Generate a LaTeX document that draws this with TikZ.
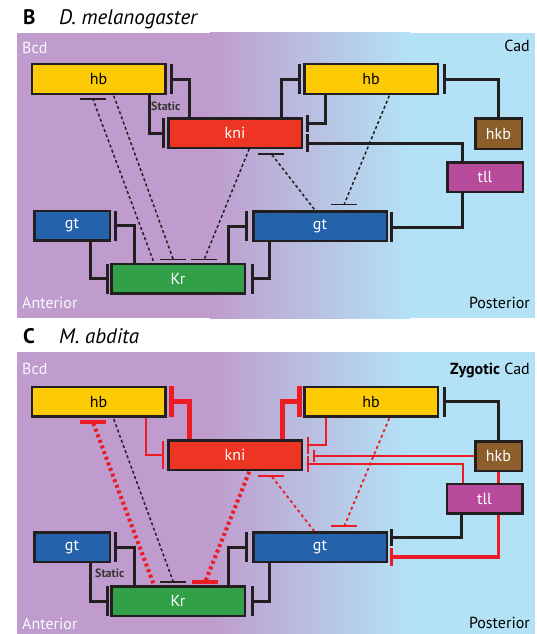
\documentclass[tikz,border=0pt]{standalone}
\usepackage{fontspec}
\setmainfont{PT Sans}
\usetikzlibrary{arrows.meta,calc}

\definecolor{bgpurple}{RGB}{191,156,205}
\definecolor{bgblue}{RGB}{179,226,246}
\definecolor{hbyellow}{RGB}{253,203,5}
\definecolor{knired}{RGB}{238,53,36}
\definecolor{gtblue}{RGB}{36,98,172}
\definecolor{krgreen}{RGB}{50,160,72}
\definecolor{hkbbrown}{RGB}{139,94,43}
\definecolor{tllmag}{RGB}{183,74,155}
\definecolor{redline}{RGB}{237,28,36}
\definecolor{linedark}{RGB}{35,31,32}

\pgfdeclarelayer{back}
\pgfdeclarelayer{wires}
\pgfsetlayers{back,wires,main}

% dashed/dotted regulation with a level bar at its target
\newcommand{\teeline}[4]{%
  \draw[#1] #2 -- #3;
  \draw[#4] #3 ++(-13,0) -- ++(26,0);}

\begin{document}
\begin{tikzpicture}[x=1pt,y=-1pt,
  box/.style={draw=linedark, line width=2.5pt, inner sep=0pt, outer sep=0pt,
    minimum height=29.5pt, text=white,
    font=\fontsize{16}{18}\selectfont},
  long/.style={box, minimum width=133.5pt},
  short/.style={box, minimum width=75.5pt},
  lbl/.style={inner sep=0pt, font=\fontsize{16}{18}\selectfont},
  ttl/.style={inner sep=0pt, anchor=base west, font=\fontsize{21}{24}\selectfont},
  static/.style={inner sep=0pt, anchor=base west, text=linedark!90,
    font=\fontsize{12}{14}\selectfont\bfseries},
  rep/.style={draw=linedark, line width=3pt, -{Bar[width=#1]}},
  rep/.default=30pt,
  redthin/.style={draw=redline, line width=1.6pt, -{Bar[width=#1]}},
  redthin/.default=17pt,
  redthick/.style={draw=redline, line width=5pt, -{Bar[width=#1]}},
  redthick/.default=31pt,
  redmid/.style={draw=redline, line width=3.6pt, -{Bar[width=#1]}},
  redmid/.default=18pt,
  dashk/.style={draw=linedark, line width=1.5pt, dash pattern=on 3pt off 2.5pt},
  bark/.style={draw=linedark, line width=1.5pt},
  dotr/.style={draw=redline, line width=4pt, dash pattern=on 3pt off 3pt},
  barrthick/.style={draw=redline, line width=4pt},
  dashr/.style={draw=redline, line width=1.8pt, dash pattern=on 3pt off 3pt},
  barr/.style={draw=redline, line width=1.8pt}]
\useasboundingbox (0,0) rectangle (537,634);

% ---------------- backgrounds (anterior-posterior gradient)
\begin{pgfonlayer}{back}
  \fill[bgpurple] (17,33) rectangle (210.5,318);
  \shade[left color=bgpurple, right color=bgblue] (210,33) rectangle (410,318);
  \fill[bgblue] (409.5,33) rectangle (535,318);
  \fill[bgpurple] (17,352) rectangle (210.5,634);
  \shade[left color=bgpurple, right color=bgblue] (210,352) rectangle (410,634);
  \fill[bgblue] (409.5,352) rectangle (535,634);
\end{pgfonlayer}

% ================= panel B: D. melanogaster
\node[ttl, font=\fontsize{21}{24}\selectfont\bfseries] (bletter) at (23,24.5) {B};
\node[ttl, font=\fontsize{21}{24}\selectfont\itshape] (btitle) at (59,24.5) {D. melanogaster};
\node[lbl, anchor=base west, text=white!94!bgpurple] (bbcd) at (22,53) {Bcd};
\node[lbl, anchor=base east] (bcad) at (530,52) {Cad};
\node[lbl, anchor=base west, text=white!94!bgpurple] (bant) at (22,308) {Anterior};
\node[lbl, anchor=base east] (bpost) at (530,308) {Posterior};

\node[long, fill=hbyellow, text=black] (bhbL) at (98.5,79) {hb};
\node[long, fill=knired] (bkni) at (235,133) {kni};
\node[long, fill=hbyellow, text=black] (bhbR) at (371,79) {hb};
\node[box, fill=hkbbrown, minimum width=46.5pt, minimum height=30.5pt] (bhkb) at (498.5,133.5) {hkb};
\node[short, fill=tllmag] (btll) at (485,177) {tll};
\node[long, fill=gtblue] (bgtR) at (320,226) {gt};
\node[short, fill=gtblue] (bgtL) at (72,225.5) {gt};
\node[long, fill=krgreen] (bKr) at (178,278.5) {Kr};
\node[static] (bstatic) at (151,110) {Static};

\begin{pgfonlayer}{wires}
  \draw[rep] ($(bhbL.south west)+(117.5,0)$) |- ($(bkni.west)+(-3,0)$);
  \draw[rep] ($(bkni.north west)+(21,0)$) |- ($(bhbL.east)+(5,0)$);
  \draw[rep] ($(bkni.north east)+(-20,0)$) |- ($(bhbR.west)+(-3,0)$);
  \draw[rep=17pt] ($(bhbR.south west)+(21,0)$) |- ($(bkni.east)+(4,-10)$);
  \draw[rep=18pt] ($(btll.north west)+(15,0)$) |- ($(bkni.east)+(4,10)$);
  \draw[rep] (bhkb.north) |- ($(bhbR.east)+(5.5,0)$);
  \draw[rep] ($(btll.south west)+(15,0)$) |- ($(bgtR.east)+(3,1)$);
  \draw[rep] ($(bgtL.south west)+(56,0)$) |- ($(bKr.west)+(-2.5,0)$);
  \draw[rep] ($(bKr.north west)+(23,0)$) |- ($(bgtL.east)+(4.5,0)$);
  \draw[rep] ($(bKr.north east)+(-16,0)$) |- ($(bgtR.west)+(-5,0)$);
  \draw[rep] ($(bgtR.south west)+(16,0)$) |- ($(bKr.east)+(6,0)$);

  \teeline{dashk}{($(bKr.north west)+(42,-3)$)}{($(bhbL.south west)+(61,5)$)}{bark}
  \teeline{dashk}{($(bhbL.south west)+(82,2)$)}{($(bKr.north west)+(62,-4.5)$)}{bark}
  \teeline{dashk}{($(bkni.south west)+(81,1)$)}{($(bKr.north west)+(93,-4.5)$)}{bark}
  \teeline{dashk}{($(bgtR.north west)+(61,-2)$)}{($(bkni.south west)+(103,6)$)}{bark}
  \teeline{dashk}{($(bhbR.south west)+(85,2)$)}{($(bgtR.north west)+(91,-7)$)}{bark}
\end{pgfonlayer}

% ================= panel C: M. abdita
\node[ttl, font=\fontsize{21}{24}\selectfont\bfseries] (cletter) at (23,343) {C};
\node[ttl, font=\fontsize{21}{24}\selectfont\itshape] (ctitle) at (59,343) {M. abdita};
\node[lbl, anchor=base west, text=white!94!bgpurple] (cbcd) at (22,374) {Bcd};
\node[lbl, anchor=base east] (ccad) at (530,374) {\textbf{Zygotic} Cad};
\node[lbl, anchor=base west, text=white!94!bgpurple] (cant) at (22,629) {Anterior};
\node[lbl, anchor=base east] (cpost) at (530,628) {Posterior};

\begin{scope}[shift={(0,322)}]
\node[long, fill=hbyellow, text=black] (chbL) at (98.5,79.5) {hb};
\node[long, fill=knired] (ckni) at (235,133) {kni};
\node[long, fill=hbyellow, text=black] (chbR) at (371,79.5) {hb};
\node[box, fill=hkbbrown, minimum width=46.5pt, minimum height=29.5pt] (chkb) at (498.5,134) {hkb};
\node[short, fill=tllmag] (ctll) at (484.5,176.5) {tll};
\node[long, fill=gtblue] (cgtR) at (320,225) {gt};
\node[short, fill=gtblue] (cgtL) at (72,225) {gt};
\node[long, fill=krgreen] (cKr) at (178,279) {Kr};
\node[static] (cstatic) at (95,255) {Static};

\begin{pgfonlayer}{wires}
  \draw[redthin=28pt] ($(chbL.south west)+(114.5,0)$) |- ($(ckni.west)+(-4.7,0)$);
  \draw[redthick] ($(ckni.north west)+(21,0)$) |- ($(chbL.east)+(3.5,0)$);
  \draw[redthick] ($(ckni.north east)+(-19,0)$) |- ($(chbR.west)+(-2,0)$);
  \draw[redthin=17pt] ($(chbR.south west)+(22,0)$) |- ($(ckni.east)+(5.7,-10)$);
  \draw[redthin=12pt] (chkb.west) -- ($(chkb.west -| ckni.east)+(11.5,0)$);
  \draw[redthin=16pt] ($(ctll.north west)+(16,0)$) |- ($(ckni.east)+(5.7,9)$);
  \draw[rep] (chkb.north) |- ($(chbR.east)+(5.5,0)$);
  \draw[rep=17pt] ($(ctll.south west)+(15,0)$) |- ($(cgtR.east)+(3,-10)$);
  \draw[redmid] (chkb.south) |- ($(cgtR.east)+(3,10)$);
  \draw[rep] ($(cgtL.south west)+(56,0)$) |- ($(cKr.west)+(-2.5,0)$);
  \draw[rep] ($(cKr.north west)+(23,0)$) |- ($(cgtL.east)+(4.5,0)$);
  \draw[rep] ($(cKr.north east)+(-16,0)$) |- ($(cgtR.west)+(-5,0)$);
  \draw[rep] ($(cgtR.south west)+(16,0)$) |- ($(cKr.east)+(6,0)$);

  \teeline{dotr}{($(cKr.north west)+(42,-3)$)}{($(chbL.south west)+(61,5.5)$)}{barrthick}
  \teeline{dashk}{($(chbL.south west)+(82,3)$)}{($(cKr.north west)+(62,-4.5)$)}{bark}
  \teeline{dotr}{($(ckni.south west)+(81,2)$)}{($(cKr.north west)+(94,-4.5)$)}{barrthick}
  \teeline{dashr}{($(cgtR.north west)+(61,-1)$)}{($(ckni.south west)+(103,6)$)}{barr}
  \teeline{dashr}{($(chbR.south west)+(85,2)$)}{($(cgtR.north west)+(91,-6)$)}{barr}
\end{pgfonlayer}
\end{scope}
\end{tikzpicture}
\end{document}
